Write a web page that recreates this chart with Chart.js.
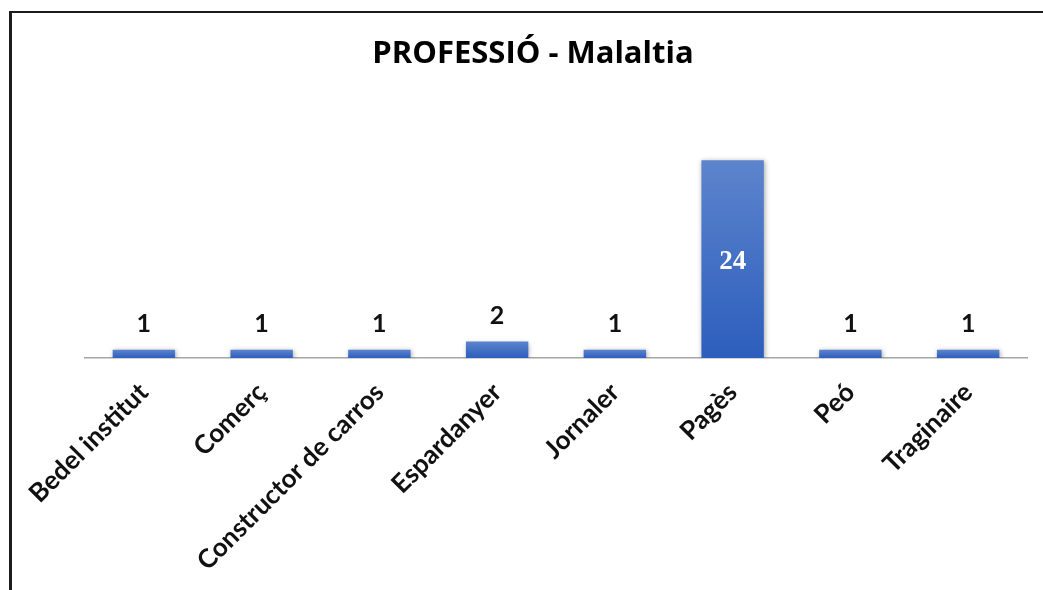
<!DOCTYPE html>
<html>
<head>
<meta charset="utf-8">
<script src="https://cdn.jsdelivr.net/npm/chart.js@4"></script>
<style>
  html, body { margin: 0; padding: 0; background: #fff; overflow: hidden; }
  body { width: 1043px; height: 590px; position: relative; }
  .frame { position: absolute; left: 9px; top: 11px; width: 1100px; height: 620px;
           border-left: 3px solid #1c1c1c; border-top: 2px solid #1c1c1c; }
  .wrap { position: absolute; left: 9px; top: 11px; width: 1048px; height: 579px; }
</style>
</head>
<body>
<div class="frame"></div>
<div class="wrap"><canvas id="chart"></canvas></div>
<script>
const categories = ['Bedel institut', 'Comerç', 'Constructor de carros', 'Espardanyer', 'Jornaler', 'Pagès', 'Peó', 'Traginaire'];
const counts = [1, 1, 1, 2, 1, 24, 1, 1];
const chartTitle = 'PROFESSIÓ - Malaltia';

// per-bar vertical gradient, lighter at the top
function barFill(ctx) {
  const chart = ctx.chart;
  const y = chart.scales.y;
  if (!y || ctx.raw === undefined) return '#4472c4';
  const top = y.getPixelForValue(ctx.raw);
  const base = y.getPixelForValue(0);
  if (!isFinite(top) || !isFinite(base) || top === base) return '#4472c4';
  const g = chart.ctx.createLinearGradient(0, top, 0, base);
  g.addColorStop(0, '#5d84cd');
  g.addColorStop(1, '#2c5ebd');
  return g;
}

const barShadow = {
  id: 'barShadow',
  beforeDatasetDraw(chart) {
    const c = chart.ctx;
    c.save();
    c.shadowColor = 'rgba(0,0,0,0.35)';
    c.shadowBlur = 5;
    c.shadowOffsetX = 1;
    c.shadowOffsetY = 1;
  },
  afterDatasetDraw(chart) {
    chart.ctx.restore();
  }
};

const valueLabels = {
  id: 'valueLabels',
  afterDatasetsDraw(chart) {
    const c = chart.ctx;
    const meta = chart.getDatasetMeta(0);
    c.save();
    c.textAlign = 'center';
    meta.data.forEach((bar, i) => {
      const v = counts[i];
      if (v >= 10) {
        c.fillStyle = '#ffffff';
        c.font = 'bold 27px "Liberation Serif", serif';
        c.textBaseline = 'middle';
        c.fillText(String(v), bar.x, (bar.y + bar.base) / 2 + 3);
      } else {
        c.fillStyle = '#111';
        c.font = 'bold 25px Lato, sans-serif';
        c.textBaseline = 'alphabetic';
        c.fillText(String(v), bar.x, bar.y - 18);
      }
    });
    c.restore();
  }
};

new Chart(document.getElementById('chart'), {
  type: 'bar',
  data: {
    labels: categories,
    datasets: [{
      data: counts,
      backgroundColor: barFill,
      borderWidth: 0,
      categoryPercentage: 1,
      barPercentage: 0.53
    }]
  },
  options: {
    responsive: true,
    maintainAspectRatio: false,
    animation: false,
    layout: { padding: 0 },
    plugins: {
      legend: { display: false },
      tooltip: { enabled: false },
      title: {
        display: true,
        text: chartTitle,
        color: '#000',
        font: { family: '"Open Sans", sans-serif', size: 31, weight: 'bold', lineHeight: 1.2 },
        padding: { top: 25, bottom: 7 }
      }
    },
    scales: {
      x: {
        grid: { display: false },
        border: { color: '#a6a6a6', width: 1.5 },
        ticks: {
          color: '#111',
          font: { family: 'Lato, sans-serif', size: 26, weight: 'bold' },
          minRotation: 45,
          maxRotation: 45,
          autoSkip: false,
          padding: 11
        },
        afterFit(s) { s.height = 232; s.paddingLeft = 76; s.paddingRight = 30; }
      },
      y: {
        display: false,
        min: 0,
        max: 33.7
      }
    }
  },
  plugins: [barShadow, valueLabels]
});
</script>
</body>
</html>
